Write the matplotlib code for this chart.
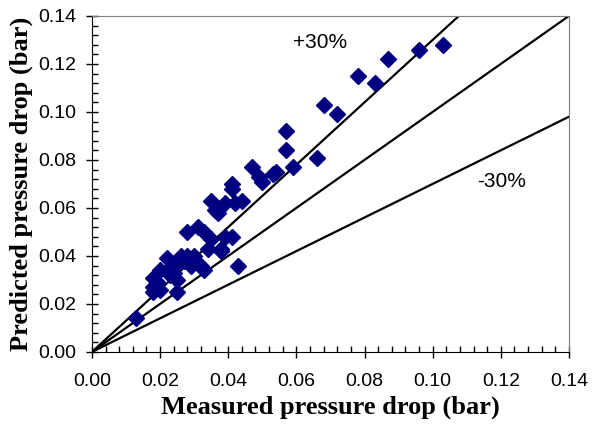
import matplotlib
matplotlib.use("Agg")
from matplotlib import pyplot as plt
from matplotlib.ticker import MultipleLocator
import numpy as np

measured = [0.103, 0.096, 0.087, 0.083, 0.078, 0.072, 0.068, 0.066, 0.059, 0.057,
            0.057, 0.047, 0.049, 0.050, 0.053, 0.054, 0.041, 0.041, 0.044, 0.042,
            0.039, 0.035, 0.037, 0.036, 0.041, 0.039, 0.038, 0.035, 0.034, 0.033,
            0.031, 0.028, 0.043, 0.033, 0.032, 0.030, 0.028, 0.027, 0.026, 0.025,
            0.023, 0.022, 0.025, 0.025, 0.023, 0.020, 0.018, 0.019, 0.018, 0.018,
            0.013, 0.020, 0.038, 0.024, 0.029]
predicted = [0.128, 0.126, 0.122, 0.112, 0.115, 0.099, 0.103, 0.081, 0.077, 0.092,
             0.084, 0.077, 0.073, 0.071, 0.074, 0.075, 0.070, 0.068, 0.063, 0.062,
             0.062, 0.063, 0.058, 0.059, 0.048, 0.048, 0.043, 0.047, 0.043, 0.050,
             0.052, 0.050, 0.036, 0.034, 0.036, 0.040, 0.040, 0.038, 0.040, 0.037,
             0.035, 0.039, 0.025, 0.030, 0.032, 0.034, 0.031, 0.029, 0.027, 0.025,
             0.014, 0.026, 0.042, 0.033, 0.036]

fig = plt.figure(figsize=(5.93, 4.24), dpi=100)
ax = fig.add_axes([0.155, 0.170, 0.8045, 0.7925])

xs = np.array([0, 0.14])
for k in [1.3, 1.0, 0.7]:
    ax.plot(xs, k * xs, color="black", lw=1.6, zorder=1)

ax.plot(measured, predicted, linestyle="none", marker="D", markersize=8.5,
        color="#000080", zorder=2)

ax.text(0.059, 0.1288, "+30%", fontsize=15, family="Liberation Sans", va="center")
ax.text(0.113, 0.0708, "-30%", fontsize=15, family="Liberation Sans", va="center")

ax.set_xlim(0, 0.14)
ax.set_ylim(0, 0.14)
ax.xaxis.set_major_locator(MultipleLocator(0.02))
ax.yaxis.set_major_locator(MultipleLocator(0.02))
ax.xaxis.set_minor_locator(MultipleLocator(0.004))
ax.yaxis.set_minor_locator(MultipleLocator(0.004))
ax.xaxis.set_major_formatter(matplotlib.ticker.FormatStrFormatter("%.2f"))
ax.yaxis.set_major_formatter(matplotlib.ticker.FormatStrFormatter("%.2f"))
ax.tick_params(which="major", direction="inout", length=8, width=1, labelsize=14)
ax.tick_params(axis="x", which="major", pad=11)
ax.tick_params(axis="y", which="major", pad=7)
ax.tick_params(which="minor", direction="in", length=4, width=1)
for lab in ax.get_xticklabels() + ax.get_yticklabels():
    lab.set_family("Liberation Sans")

ax.spines["top"].set_color("#808080")
ax.spines["right"].set_color("#808080")
ax.spines["top"].set_linewidth(0.8)
ax.spines["right"].set_linewidth(0.8)

ax.set_xlabel("Measured pressure drop (bar)", family="Liberation Serif",
              fontweight="bold", fontsize=19, labelpad=4)
ax.set_ylabel("Predicted pressure drop (bar)", family="Liberation Serif",
              fontweight="bold", fontsize=19, labelpad=4)

fig.savefig("out.png", dpi=100)
